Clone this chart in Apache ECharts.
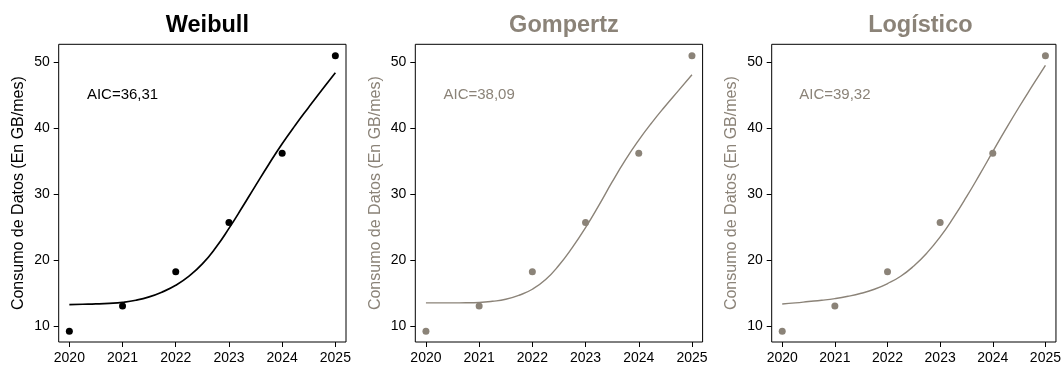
<!DOCTYPE html>
<html>
<head>
<meta charset="utf-8">
<script src="https://cdn.jsdelivr.net/npm/echarts@6/dist/echarts.min.js"></script>
<style>
html,body{margin:0;padding:0;background:#fff;}
#chart{width:1064px;height:365px;}
</style>
</head>
<body>
<div id="chart"></div>
<script>
// ---- data ----
const years = [2020, 2021, 2022, 2023, 2024, 2025];
const consumo = [9.2, 13.0, 18.2, 25.7, 36.2, 51.0];

const curveX = [2020, 2020.25, 2020.5, 2020.75, 2021, 2021.25, 2021.5, 2021.75, 2022, 2022.25, 2022.5,
                2022.75, 2023, 2023.25, 2023.5, 2023.75, 2024, 2024.25, 2024.5, 2024.75, 2025];
const weibullFit = [13.23, 13.28, 13.33, 13.42, 13.58, 13.89, 14.4, 15.16, 16.16, 17.55, 19.4,
                    21.85, 24.8, 28.0, 31.3, 34.55, 37.65, 40.5, 43.2, 45.85, 48.44];
const gompertzFit = [13.49, 13.49, 13.49, 13.5, 13.55, 13.73, 14.04, 14.65, 15.56, 17.03, 19.2,
                     21.88, 24.92, 28.3, 31.85, 35.2, 38.2, 40.9, 43.38, 45.75, 48.13];
const logisticoFit = [13.33, 13.49, 13.69, 13.89, 14.14, 14.49, 14.95, 15.56, 16.42, 17.53, 19.1,
                      21.08, 23.5, 26.39, 29.57, 32.96, 36.45, 39.9, 43.23, 46.42, 49.55];

const panelTitles = ['Weibull', 'Gompertz', 'Logístico'];
const aicLabels = ['AIC=36,31', 'AIC=38,09', 'AIC=39,32'];
const xTicks = [2020, 2021, 2022, 2023, 2024, 2025];
const yTicks = [10, 20, 30, 40, 50];
const yTitle = 'Consumo de Datos (En GB/mes)';

// ---- layout / style ----
const FONT = 'Liberation Sans, Arial, sans-serif';
const GREY = '#8B8378';
const panelColors = ['#000000', GREY, GREY];
const fits = [weibullFit, gompertzFit, logisticoFit];
const gridLefts = [58.7, 415.3, 771.7];
const gridW = 287.3, gridTop = 44.3, gridH = 297.7;

const chart = echarts.init(document.getElementById('chart'), null, {renderer: 'canvas'});

const grids = [], xAxes = [], yAxes = [], series = [], titles = [];
for (let i = 0; i < 3; i++) {
  grids.push({
    left: gridLefts[i], top: gridTop, width: gridW, height: gridH,
    show: true, borderColor: '#000', borderWidth: 1, backgroundColor: 'transparent',
    containLabel: false
  });
  xAxes.push({
    type: 'value', gridIndex: i, min: 2019.8, max: 2025.2,
    axisLine: {show: false},
    splitLine: {show: false},
    axisTick: {show: true, inside: false, length: 5, customValues: xTicks, lineStyle: {color: '#000', width: 1}},
    axisLabel: {show: true, customValues: xTicks, margin: 9, color: '#000', fontSize: 14, fontFamily: FONT,
                formatter: v => String(v)}
  });
  yAxes.push({
    type: 'value', gridIndex: i, min: 7.55, max: 52.75,
    axisLine: {show: false},
    splitLine: {show: false},
    axisTick: {show: true, inside: false, length: 5, customValues: yTicks, lineStyle: {color: '#000', width: 1}},
    axisLabel: {show: true, customValues: yTicks, margin: 9, color: '#000', fontSize: 14, fontFamily: FONT,
                formatter: v => String(v)},
    name: yTitle, nameLocation: 'middle', nameGap: 32, nameRotate: 90,
    nameTextStyle: {color: panelColors[i], fontSize: 16, fontFamily: FONT}
  });
  titles.push({
    text: panelTitles[i],
    left: gridLefts[i] + gridW / 2, top: 9, textAlign: 'center',
    textStyle: {color: panelColors[i], fontSize: 23.5, fontWeight: 'bold', fontFamily: FONT}
  });
  series.push({
    type: 'line', xAxisIndex: i, yAxisIndex: i,
    data: curveX.map((x, k) => [x, fits[i][k]]),
    showSymbol: false, smooth: true,
    lineStyle: {color: panelColors[i], width: i === 0 ? 1.7 : 1.4},
    silent: true, animation: false, z: 2
  });
  series.push({
    type: 'scatter', xAxisIndex: i, yAxisIndex: i,
    data: years.map((x, k) => [x, consumo[k]]),
    symbol: 'circle', symbolSize: 7,
    itemStyle: {color: panelColors[i], opacity: 1},
    silent: true, animation: false, z: 3
  });
}

chart.setOption({
  animation: false,
  backgroundColor: '#fff',
  title: titles,
  grid: grids,
  xAxis: xAxes,
  yAxis: yAxes,
  series: series
});

// AIC annotations placed in data coordinates (x = 2021, y = 45)
const graphics = [];
for (let i = 0; i < 3; i++) {
  const p = chart.convertToPixel({gridIndex: i}, [2021, 45]);
  graphics.push({
    type: 'text', x: p[0], y: p[1], silent: true,
    style: {text: aicLabels[i], fill: panelColors[i], fontSize: 15, fontFamily: FONT,
            align: 'center', verticalAlign: 'middle'}
  });
}
chart.setOption({graphic: graphics});
</script>
</body>
</html>
